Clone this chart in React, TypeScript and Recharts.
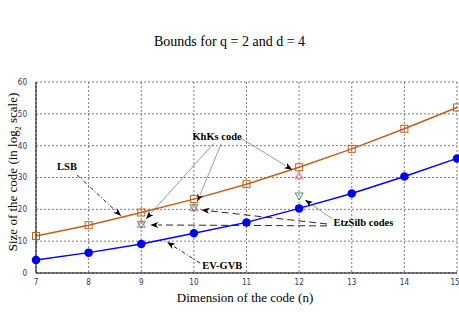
import React from 'react'
import {
    LineChart,
    Line,
    XAxis,
    YAxis,
    CartesianGrid,
    ReferenceLine,
    ReferenceDot
} from 'recharts'

// Dimension of the code (n)
const dims = [7, 8, 9, 10, 11, 12, 13, 14, 15]
// Size of the code (log2 scale)
const lsb = [11.6, 15, 19, 23.2, 27.9, 33.2, 39, 45.3, 52]
const evGvb = [4.1, 6.4, 9.1, 12.5, 15.9, 20.3, 25, 30.3, 36]
const khks = [null, null, 15.3, 20.5, null, 30.5, null, null, null]
const etzSilb = [null, null, 15.3, 20.5, null, 24.2, null, null, null]

const xTicks = [7, 8, 9, 10, 11, 12, 13, 14, 15]
const yTicks = [0, 10, 20, 30, 40, 50, 60]

// annotation texts, in data coordinates
const labels = [
    { text: 'LSB', x: 7.59, y: 33.3 },
    { text: 'KhKs code', x: 10.44, y: 42.8 },
    { text: 'EtzSilb codes', x: 13.22, y: 16.0 },
    { text: 'EV-GVB', x: 10.54, y: 2.5 },
]

// annotation arrows: from -> to, with a line style
const arrows = [
    { from: [7.78, 30.8], to: [8.62, 17.9], style: 'dashdot' },
    { from: [10.37, 40.6], to: [9.09, 17.0], style: 'thin' },
    { from: [10.52, 40.6], to: [10.06, 22.3], style: 'thin' },
    { from: [10.88, 42.5], to: [11.87, 32.4], style: 'thin' },
    { from: [12.53, 14.8], to: [9.17, 15.1], style: 'dashed' },
    { from: [12.53, 15.4], to: [10.14, 19.8], style: 'dashed' },
    { from: [12.63, 17.0], to: [12.11, 23.0], style: 'thin' },
    { from: [10.12, 3.1], to: [9.49, 9.7], style: 'dashdot' },
]

const data = dims.map((n, i) => ({
    n,
    lsb: lsb[i],
    evGvb: evGvb[i],
    khks: khks[i],
    etzSilb: etzSilb[i],
}))

const serif = '"Liberation Serif", "DejaVu Serif", serif'
const tickFont = { fontSize: 8, fill: '#33335a', fontFamily: '"DejaVu Sans Condensed", "DejaVu Sans", sans-serif' }

const SquareDot = (props: any) => {
    const { cx, cy } = props
    if (cx == null || cy == null) return null
    return (
        <g>
            <rect x={cx - 3.5} y={cy - 3.5} width={7} height={7} fill="none" stroke="#c0601a" strokeWidth={1} />
            <circle cx={cx} cy={cy} r={0.7} fill="#c0601a" />
        </g>
    )
}

const TriUp = (props: any) => {
    const { cx, cy, value } = props
    if (cx == null || cy == null || value == null) return null
    return <path d={`M${cx},${cy - 4} L${cx + 4},${cy + 3} L${cx - 4},${cy + 3} Z`} fill="none" stroke="#ff5a5a" strokeWidth={0.9} />
}

const TriDown = (props: any) => {
    const { cx, cy, value } = props
    if (cx == null || cy == null || value == null) return null
    return <path d={`M${cx},${cy + 4} L${cx + 4},${cy - 3} L${cx - 4},${cy - 3} Z`} fill="none" stroke="#2e8b57" strokeWidth={0.9} />
}

const Arrow = (style: string) => (props: any) => {
    const { x1, y1, x2, y2 } = props
    if (x1 == null) return null
    const ang = Math.atan2(y2 - y1, x2 - x1)
    const len = 8
    const w = 3
    const bx = x2 - len * Math.cos(ang)
    const by = y2 - len * Math.sin(ang)
    const px = -Math.sin(ang) * w
    const py = Math.cos(ang) * w
    const stroke = style === 'thin' ? '#555' : '#111'
    const dash = style === 'dashed' ? '7 4' : style === 'dashdot' ? '4 2 1 2' : undefined
    return (
        <g>
            <line x1={x1} y1={y1} x2={bx} y2={by} stroke={stroke} strokeWidth={style === 'thin' ? 0.6 : 0.9} strokeDasharray={dash} />
            <path d={`M${x2},${y2} L${bx + px},${by + py} L${bx + 2 * Math.cos(ang)},${by + 2 * Math.sin(ang)} L${bx - px},${by - py} Z`} fill="#000" />
        </g>
    )
}

const LabelText = (text: string) => (props: any) => (
    <text x={props.cx} y={props.cy} textAnchor="middle" dominantBaseline="central" fontFamily={serif} fontSize={10.5} fill="#000" style={{ fontWeight: 600 }}>
        {text}
    </text>
)

export default function App() {
    return (
        <div style={{ position: 'absolute', left: 0, top: 0, width: 459, height: 317, background: '#fff' }}>
            <div style={{ position: 'absolute', top: 34, width: 459, textAlign: 'center', fontFamily: serif, fontSize: 14 }}>
                Bounds for q = 2 and d = 4
            </div>
            <div style={{ position: 'absolute', left: 14, top: 172, transform: 'translate(-50%, -50%) rotate(-90deg)', whiteSpace: 'nowrap', fontFamily: serif, fontSize: 13 }}>
                Size of the code (in log<sub style={{ fontSize: 8 }}>2</sub> scale)
            </div>
            <div style={{ position: 'absolute', top: 290, left: 0, width: 490, textAlign: 'center', fontFamily: serif, fontSize: 13 }}>
                Dimension of the code (n)
            </div>
            <LineChart
                width={459}
                height={317}
                data={data}
                margin={{ top: 82, right: 2, bottom: 24, left: 6 }}
            >
                <CartesianGrid stroke="#444" strokeDasharray="2 2" strokeWidth={0.7} />
                <XAxis
                    dataKey="n"
                    type="number"
                    domain={[7, 15]}
                    ticks={xTicks}
                    tick={tickFont}
                    tickLine={false}
                    axisLine={{ stroke: '#000' }}
                    height={20}
                    tickMargin={0}
                />
                <XAxis xAxisId="top" orientation="top" dataKey="n" type="number" domain={[7, 15]} ticks={xTicks} tick={false} tickLine={false} axisLine={{ stroke: '#000' }} height={0} />
                <YAxis
                    domain={[0, 60]}
                    ticks={yTicks}
                    tick={tickFont}
                    tickLine={false}
                    axisLine={{ stroke: '#000' }}
                    width={30}
                    tickMargin={3}
                />
                <YAxis yAxisId="right" orientation="right" domain={[0, 60]} ticks={yTicks} tick={false} tickLine={false} axisLine={{ stroke: '#000' }} width={0} />
                <Line dataKey="lsb" stroke="#c0601a" strokeWidth={1.5} dot={<SquareDot />} isAnimationActive={false} />
                <Line dataKey="evGvb" stroke="#0000ff" strokeWidth={1.5} dot={{ r: 3.5, fill: '#0000ff', stroke: '#0000ff' }} isAnimationActive={false} />
                <Line dataKey="khks" stroke="none" dot={<TriUp />} isAnimationActive={false} />
                <Line dataKey="etzSilb" stroke="none" dot={<TriDown />} isAnimationActive={false} />
                {arrows.map((a, i) => (
                    <ReferenceLine
                        key={`arrow-${i}`}
                        segment={[{ x: a.from[0], y: a.from[1] }, { x: a.to[0], y: a.to[1] }]}
                        shape={Arrow(a.style)}
                    />
                ))}
                {labels.map((l, i) => (
                    <ReferenceDot key={`label-${i}`} x={l.x} y={l.y} r={0} shape={LabelText(l.text)} />
                ))}
            </LineChart>
        </div>
    )
}
